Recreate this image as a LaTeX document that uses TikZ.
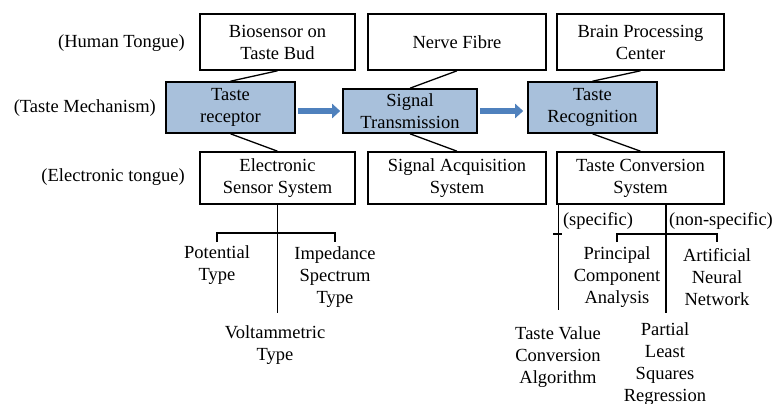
\documentclass[tikz,border=0pt]{standalone}
\usepackage{fontspec}
\setmainfont{Liberation Serif}
\usetikzlibrary{calc,arrows.meta}
\definecolor{mechfill}{RGB}{168,192,219}
\definecolor{flowblue}{RGB}{79,129,189}
\begin{document}
\begin{tikzpicture}[x=1pt,y=-1pt,
  every node/.style={font=\fontsize{18.5}{22}\selectfont, inner sep=0pt, align=center},
  organ/.style={draw, line width=1.6pt, minimum height=56pt},
  mech/.style={draw, line width=1.6pt, fill=mechfill, minimum width=129pt, minimum height=51pt},
  etongue/.style={draw, line width=1.6pt, minimum height=52pt},
  link/.style={line width=1.3pt},
  flow/.style={line width=5.5pt, flowblue, -{Triangle[length=8pt,width=14pt]}}]
\useasboundingbox (0,0) rectangle (774,404);

% row captions
\node[anchor=east] (capH) at (185,43) {(Human Tongue)};
\node[anchor=east] (capM) at (156,108) {(Taste Mechanism)};
\node[anchor=east] (capE) at (185,177) {(Electronic tongue)};

% human tongue
\node[organ, minimum width=155pt] (b1) at (277.5,42) {Biosensor on\\Taste Bud};
\node[organ, minimum width=178pt] (b2) at (457,42) {Nerve Fibre};
\node[organ, minimum width=167pt] (b3) at (640.5,42) {Brain Processing\\Center};

% taste mechanism
\node[mech] (m1) at (230.5,107.5) {Taste\\receptor};
\node[mech, minimum width=134pt, minimum height=44pt] (m2) at (410,111) {Signal\\Transmission};
\node[mech] (m3) at (592.5,107.5) {Taste\\Recognition};

% electronic tongue
\node[etongue, minimum width=155pt] (e1) at (277.5,178) {Electronic\\Sensor System};
\node[etongue, minimum width=178pt] (e2) at (457,178) {Signal Acquisition\\System};
\node[etongue, minimum width=167pt] (e3) at (640.5,178) {Taste Conversion\\System};

% links between the rows
\foreach \i in {1,2,3} {
  \draw[link] (b\i.south) -- (m\i.north);
  \draw[link] (m\i.south) -- (e\i.north);
}

% signal flow
\draw[flow] ($(m1.east |- m2.west)+(2,0)$) -- ($(m2.west)+(-2,0)$);
\draw[flow] ($(m2.east)+(2,0)$) -- ($(m3.west |- m2.east)+(-4,0)$);

% sensor types
\node (pot) at (217,265) {Potential\\Type};
\node (imp) at (335,277) {Impedance\\Spectrum\\Type};
\node (vol) at (275,345) {Voltammetric\\Type};
\coordinate (s1) at (e1.south |- 0,313);
\coordinate (j1) at (e1.south |- 0,233);
\draw[link] (e1.south) -- (s1);
\draw[link] (pot.north |- 0,242) |- (j1) -| (imp.north |- 0,242);

% conversion methods
\node (spec) at (598,221) {(specific)};
\node (nspec) at (721,221) {(non-specific)};
\node (pca) at (617,277) {Principal\\Component\\Analysis};
\node (ann) at (717,277) {Artificial\\Neural\\Network};
\node (tvca) at (558,357) {Taste Value\\Conversion\\Algorithm};
\node (plsr) at (665,364) {Partial\\Least\\Squares\\Regression};
\coordinate (cl) at ($(e3.south west)+(2,0)$);
\coordinate (cr) at (666,204);
\draw[link] (cl) -- (cl |- 0,310);
\draw[link] ($(cl |- 0,234)+(-5,0)$) -- ($(cl |- 0,234)+(4,0)$);
\draw[link] (cr) -- (cr |- 0,313);
\draw[link] (pca.north |- 0,242) |- (cr |- 0,234) -| (ann.north |- 0,242);
\end{tikzpicture}
\end{document}
